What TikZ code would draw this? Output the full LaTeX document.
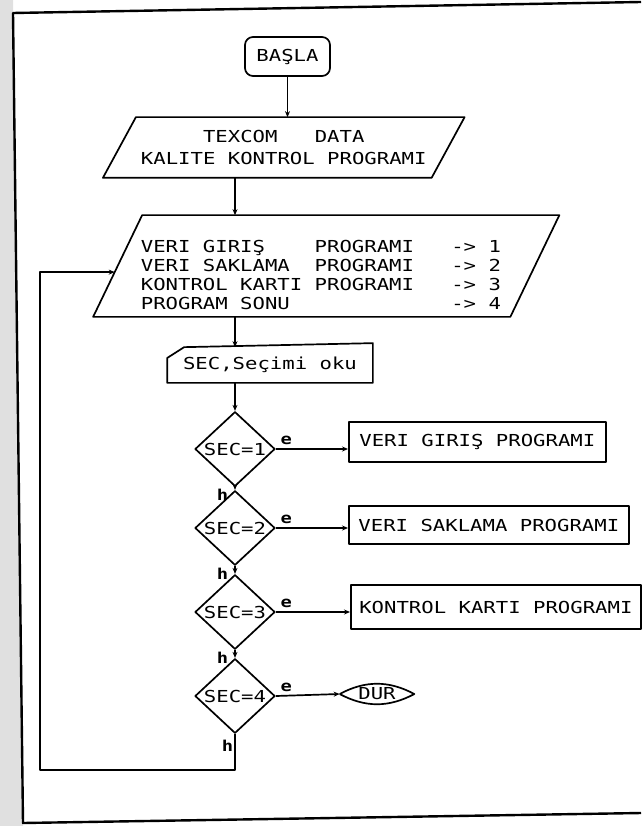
\documentclass[tikz,border=0pt]{standalone}
\usepackage{fontspec}
\newfontfamily\dm[FakeStretch=1.25]{DejaVu Sans Mono}
\usetikzlibrary{arrows.meta,shapes.geometric,calc}
\begin{document}
\begin{tikzpicture}[x=1pt,y=-1pt, line width=1.7pt, line join=round,
  txt/.style={font=\dm\fontsize{16.5}{19}\selectfont, inner sep=0pt},
  arr/.style={-{Stealth[length=6pt,width=5pt]}},
  dec/.style={diamond, draw, txt, minimum width=80pt, minimum height=72pt, inner sep=0pt},
  pbox/.style={rectangle, draw, txt, anchor=west},
  lab/.style={font=\dm\bfseries\fontsize{15}{15}\selectfont, inner sep=0pt}]
\useasboundingbox (0,0) rectangle (641,826);
\fill[white] (0,0) rectangle (641,826);
\fill[black!12] (0,0) -- (13,0) -- (13,13) -- (23,823) -- (23,826) -- (0,826) -- cycle;
% page frame
\draw[line width=2.4pt] (641,2) -- (13,13) -- (23,823) -- (641,813);

% start
\node[txt, draw, rounded corners=8pt, minimum width=85pt, minimum height=39pt] (basla) at (287.5,56.5) {BAŞLA};

% header parallelogram
\node[txt, align=center, font=\dm\fontsize{16.5}{22}\selectfont, minimum width=327pt, minimum height=59pt] (p1) at (283.75,147.5) {TEXCOM\ \ \ DATA\\KALITE KONTROL PROGRAMI};
\draw ([xshift=16.5pt]p1.north west) -- ([xshift=16.5pt]p1.north east) -- ([xshift=-16.5pt]p1.south east) -- ([xshift=-16.5pt]p1.south west) -- cycle;

% menu parallelogram
\node[minimum width=415.5pt, minimum height=100pt, inner sep=0pt] (p2) at (326.25,266) {};
\draw ([xshift=24.5pt]p2.north west) -- ([xshift=24.5pt]p2.north east) -- ([xshift=-24.5pt]p2.south east) -- ([xshift=-24.5pt]p2.south west) -- cycle;
\node[txt, align=left, font=\dm\fontsize{16.5}{18.7}\selectfont, anchor=west] (p2t) at (140,275) {VERI GIRIŞ\ \ \ \ PROGRAMI\ \ \ ->\ 1\\VERI SAKLAMA\ \ PROGRAMI\ \ \ ->\ 2\\KONTROL KARTI\ PROGRAMI\ \ \ ->\ 3\\PROGRAM SONU\ \ \ \ \ \ \ \ \ \ \ \ \ ->\ 4};
\coordinate (p2in) at ($([xshift=-24.5pt]p2.south west)!0.44!([xshift=24.5pt]p2.north west)$);

% manual input
\node[txt, minimum width=204pt, minimum height=34pt] (sec) at (270,365) {SEC,Seçimi oku};
\draw (sec.south west) -- ([yshift=7pt]sec.west) -- ([xshift=17pt]sec.north west) -- ([yshift=4pt]sec.north east) -- (sec.south east) -- cycle;

% decisions
\node[dec] (d1) at (235,449) {SEC=1};
\node[dec] (d2) at (235,528) {SEC=2};
\node[dec] (d3) at (235,612) {SEC=3};
\node[dec] (d4) at (235,696) {SEC=4};

% process boxes
\node[pbox, minimum width=257pt, minimum height=40pt] (b1) at (348,442) {VERI GIRIŞ PROGRAMI};
\node[pbox, minimum width=280pt, minimum height=38pt] (b2) at (348,525) {VERI SAKLAMA PROGRAMI};
\node[pbox, minimum width=290pt, minimum height=44pt] (b3) at (350,607) {KONTROL KARTI PROGRAMI};

% stop
\node[txt, minimum width=73pt, minimum height=28pt] (dur) at (377,694) {DUR};
\draw (dur.west) to[bend left=28] (dur.east) to[bend left=28] (dur.west);

% flow
\draw[arr] (basla.south) -- (basla.south |- p1.north);
\draw[arr] (p1.south -| d1.north) -- (p2.north -| d1.north);
\draw[arr] (p2.south -| d1.north) -- (sec.north -| d1.north);
\draw[arr] (sec.south -| d1.north) -- (d1.north);
\draw[arr] (d1.south) -- (d2.north);
\draw[arr] (d2.south) -- (d3.north);
\draw[arr] (d3.south) -- (d4.north);

\draw[arr] (d1.east) -- (d1.east -| b1.west);
\draw[arr] (d2.east) -- (d2.east -| b2.west);
\draw[arr] (d3.east) -- (d3.east -| b3.west);
\draw[arr] (d4.east) -- (dur.west);

\coordinate (lb) at (40,770);
\draw[arr] (d4.south) |- (lb) |- (p2in);

% labels
\foreach \d in {d1,d2,d3,d4}{
  \node[lab, anchor=south west] at ([xshift=4pt,yshift=3pt]\d.east) {e};
}
\foreach \d in {d1,d2,d3}{
  \node[lab, anchor=east] at ([xshift=-6pt,yshift=-8pt]\d.south) {h};
}
\node[lab, anchor=east] at ([xshift=-1pt,yshift=-12pt]d4.south) {h};
\end{tikzpicture}
\end{document}
